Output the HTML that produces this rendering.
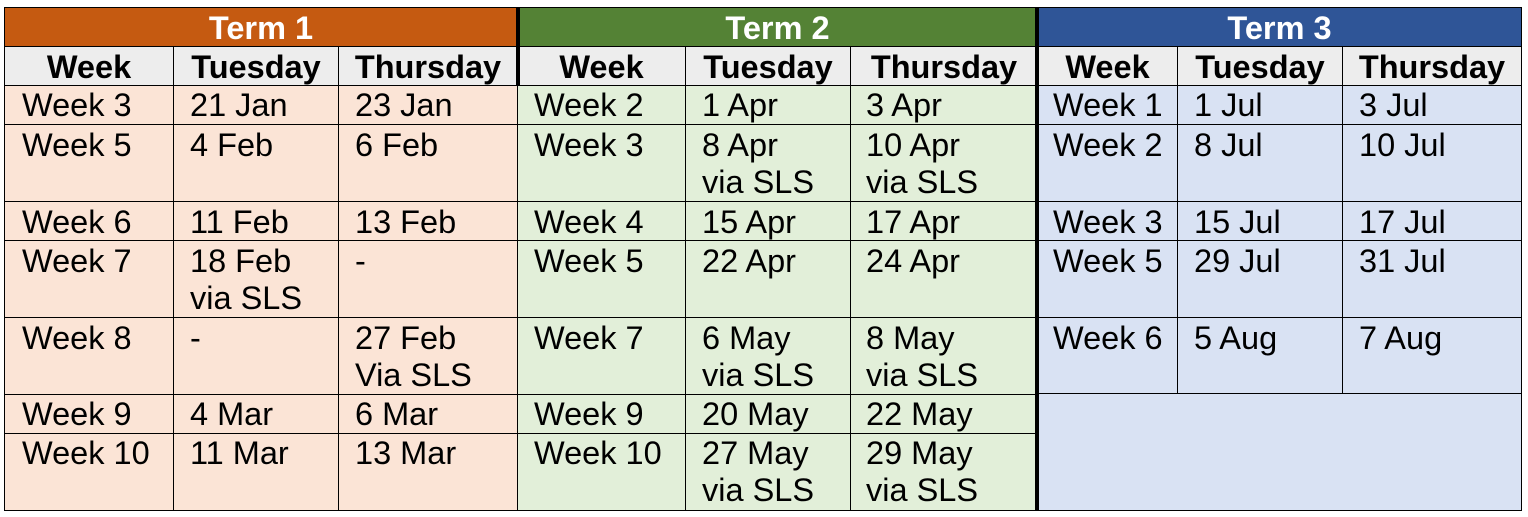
<!DOCTYPE html>
<html><head><meta charset="utf-8"><title>Term schedule</title>
<style>
html,body{margin:0;padding:0;background:#fff;}
#t{position:relative;width:1528px;height:517px;overflow:hidden;font-family:"Liberation Sans",Arial,sans-serif;font-size:32.5px;line-height:37px;color:#000;}
.c{position:absolute;box-sizing:border-box;border:1px solid #000;white-space:pre;padding-top:2px;}
.h{font-weight:bold;text-align:center;background:#EDEDED;height:40px;top:46px;}
.m{font-weight:bold;text-align:center;color:#fff;top:7px;height:40px;padding-top:2px;}
.a{background:#FBE4D6;}.b{background:#E2EFD9;}.d{background:#D9E2F3;}
.r1{top:85px;height:40px;padding-top:1px}.r2{top:124px;height:78px}.r3{top:201px;height:40px}.r4{top:240px;height:78px}.r5{top:317px;height:78px}.r6{top:394px;height:40px;padding-top:1px}.r7{top:433px;height:78px;padding-top:1px}
.s1{left:4px;width:170px;padding-left:17px}.s2{left:173px;width:166px;padding-left:16px}.s3{left:338px;width:180px;padding-left:16px}
.s4{left:517px;width:169px;padding-left:16px}.s5{left:685px;width:166px;padding-left:16px}.s6{left:850px;width:188px;padding-left:15px}
.s7{left:1037px;width:141px;padding-left:15px}.s8{left:1177px;width:166px;padding-left:16px}.s9{left:1342px;width:180px;padding-left:16px}
.h{padding-left:0}
.k{position:absolute;background:#000;width:4px;}
</style></head><body>
<div id="t">
<div class="c m" style="left:4px;width:514px;background:#C55A11">Term 1</div>
<div class="c m" style="left:517px;width:521px;background:#548235">Term 2</div>
<div class="c m" style="left:1037px;width:485px;background:#2F5597">Term 3</div>

<div class="c h s1">Week</div>
<div class="c h s2">Tuesday</div>
<div class="c h s3">Thursday</div>
<div class="c h s4">Week</div>
<div class="c h s5">Tuesday</div>
<div class="c h s6">Thursday</div>
<div class="c h s7">Week</div>
<div class="c h s8">Tuesday</div>
<div class="c h s9">Thursday</div>

<div class="c a s1 r1">Week 3</div><div class="c a s2 r1">21 Jan</div><div class="c a s3 r1">23 Jan</div>
<div class="c a s1 r2">Week 5</div><div class="c a s2 r2">4 Feb</div><div class="c a s3 r2">6 Feb</div>
<div class="c a s1 r3">Week 6</div><div class="c a s2 r3">11 Feb</div><div class="c a s3 r3">13 Feb</div>
<div class="c a s1 r4">Week 7</div><div class="c a s2 r4">18 Feb
via SLS</div><div class="c a s3 r4">-</div>
<div class="c a s1 r5">Week 8</div><div class="c a s2 r5">-</div><div class="c a s3 r5">27 Feb
Via SLS</div>
<div class="c a s1 r6">Week 9</div><div class="c a s2 r6">4 Mar</div><div class="c a s3 r6">6 Mar</div>
<div class="c a s1 r7">Week 10</div><div class="c a s2 r7">11 Mar</div><div class="c a s3 r7">13 Mar</div>

<div class="c b s4 r1">Week 2</div><div class="c b s5 r1">1 Apr</div><div class="c b s6 r1">3 Apr</div>
<div class="c b s4 r2">Week 3</div><div class="c b s5 r2">8 Apr
via SLS</div><div class="c b s6 r2">10 Apr
via SLS</div>
<div class="c b s4 r3">Week 4</div><div class="c b s5 r3">15 Apr</div><div class="c b s6 r3">17 Apr</div>
<div class="c b s4 r4">Week 5</div><div class="c b s5 r4">22 Apr</div><div class="c b s6 r4">24 Apr</div>
<div class="c b s4 r5">Week 7</div><div class="c b s5 r5">6 May
via SLS</div><div class="c b s6 r5">8 May
via SLS</div>
<div class="c b s4 r6">Week 9</div><div class="c b s5 r6">20 May</div><div class="c b s6 r6">22 May</div>
<div class="c b s4 r7">Week 10</div><div class="c b s5 r7">27 May
via SLS</div><div class="c b s6 r7">29 May
via SLS</div>

<div class="c d s7 r1">Week 1</div><div class="c d s8 r1">1 Jul</div><div class="c d s9 r1">3 Jul</div>
<div class="c d s7 r2">Week 2</div><div class="c d s8 r2">8 Jul</div><div class="c d s9 r2">10 Jul</div>
<div class="c d s7 r3">Week 3</div><div class="c d s8 r3">15 Jul</div><div class="c d s9 r3">17 Jul</div>
<div class="c d s7 r4">Week 5</div><div class="c d s8 r4">29 Jul</div><div class="c d s9 r4">31 Jul</div>
<div class="c d s7 r5">Week 6</div><div class="c d s8 r5">5 Aug</div><div class="c d s9 r5">7 Aug</div>
<div class="c d" style="left:1037px;top:393px;width:485px;height:118px"></div>

<div class="k" style="left:516px;top:7px;height:79px"></div>
<div class="k" style="left:1035px;top:7px;height:504px"></div>
</div>
</body></html>
